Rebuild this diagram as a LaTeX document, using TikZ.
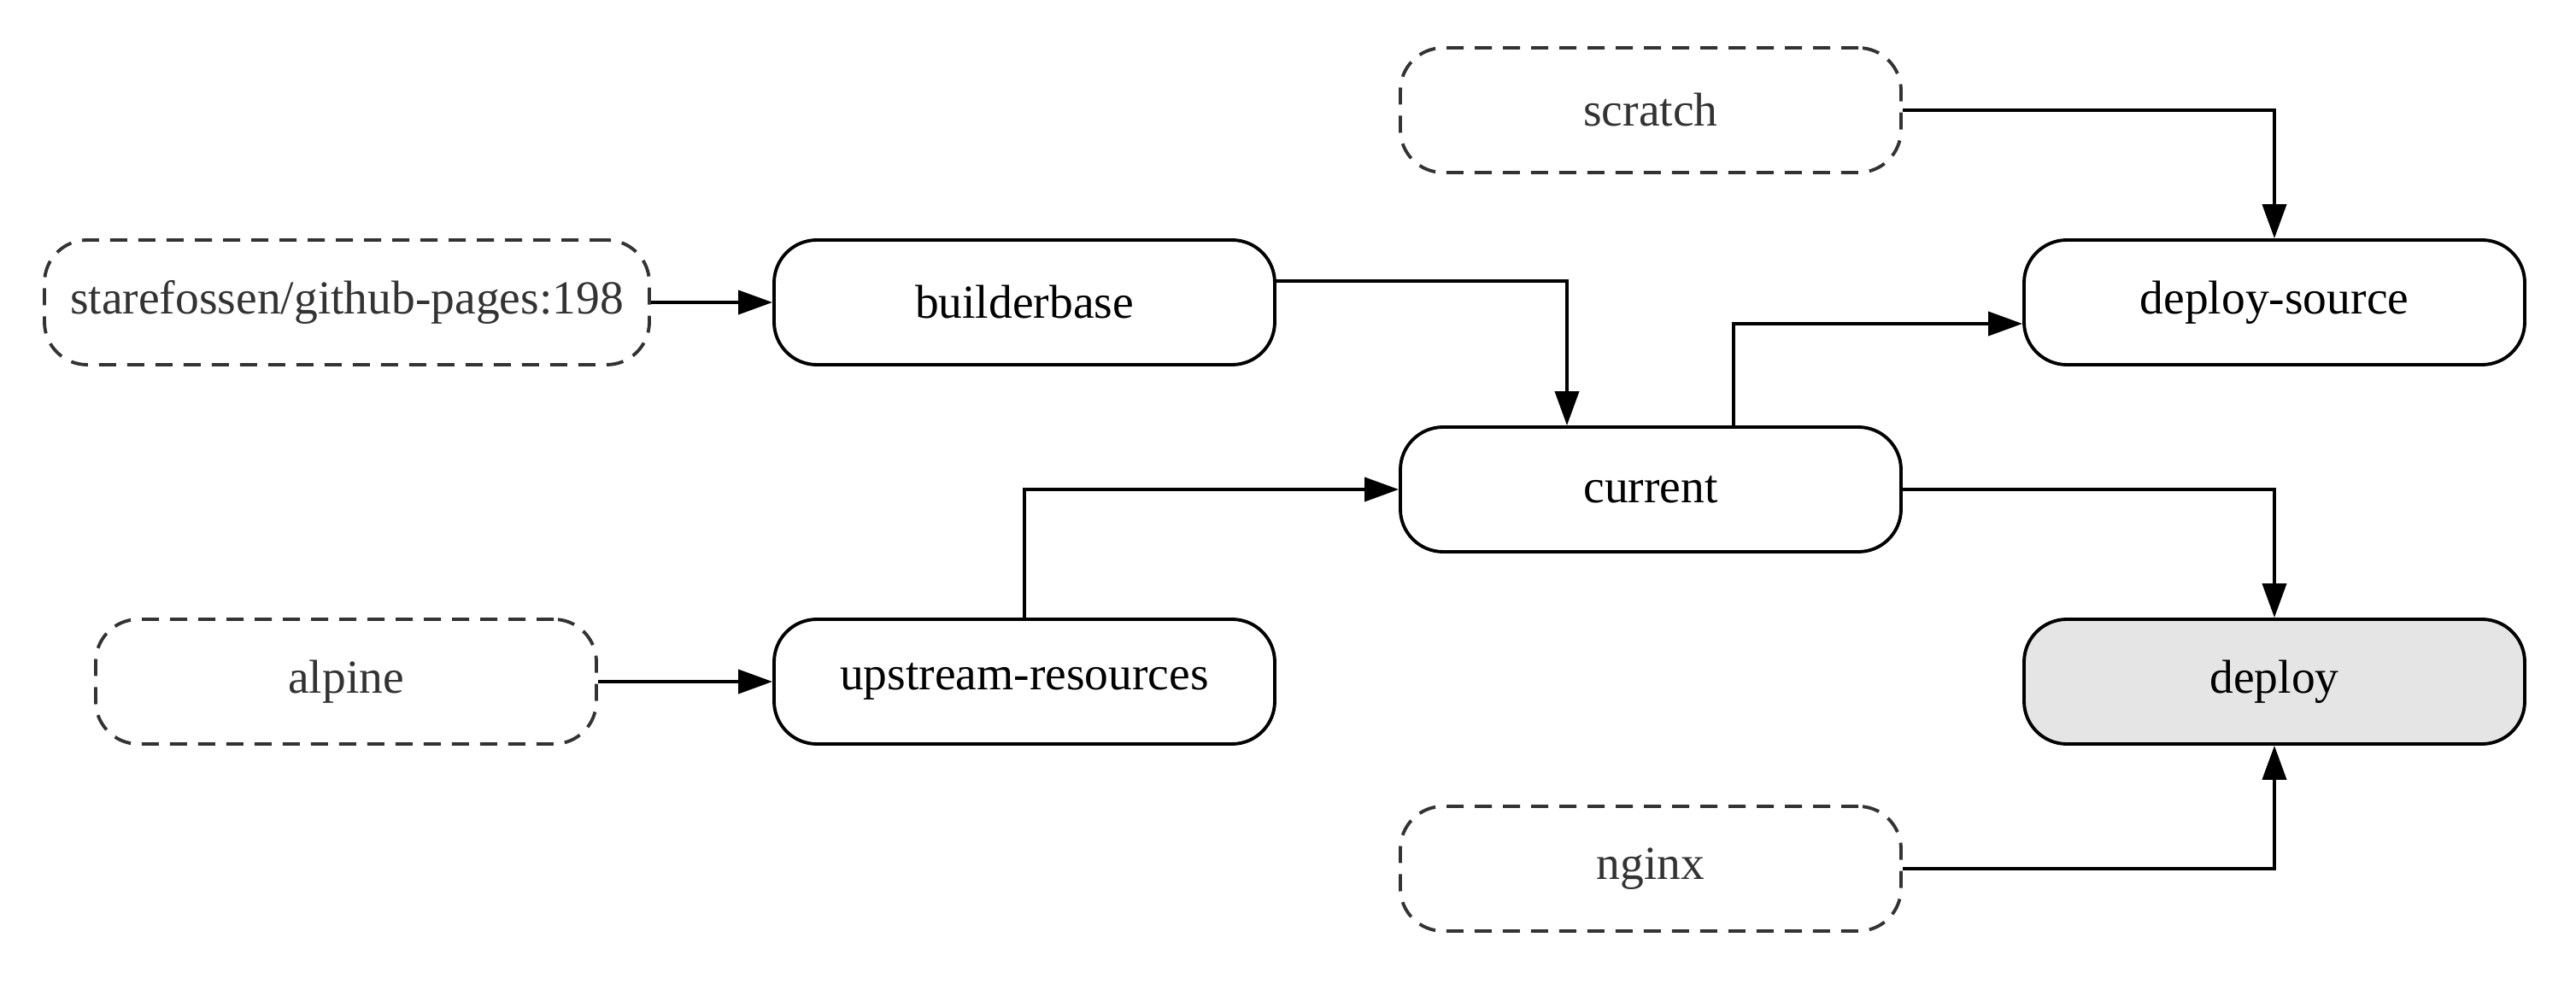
\documentclass[tikz,border=0pt]{standalone}
\usepackage{fontspec}
\setmainfont{Liberation Serif}
\usepackage{xcolor}
\usetikzlibrary{arrows.meta}
\definecolor{basegray}{HTML}{333333}
\definecolor{deployfill}{HTML}{E5E5E5}
\tikzset{
  stage/.style={draw, line width=1.1pt, rounded corners=0.5cm, minimum width=5.86cm,
    minimum height=1.46cm, inner sep=0pt, font=\fontsize{15.8}{19}\selectfont},
  base/.style={stage, draw=basegray, text=basegray, dash pattern=on 0.2cm off 0.13cm},
  flow/.style={line width=1.1pt, -{Triangle[length=0.4cm,width=0.28cm]}}
}
\begin{document}
\begin{tikzpicture}
		\useasboundingbox (0,0) rectangle (30.15,11.51);
		% BASE IMAGES
		\node [base] (scratch) at (19.32,10.22) {scratch};
		\node [base, minimum width=7.08cm] (stare) at (4.06,7.97) {starefossen/github-pages:198};
		\node [base] (alpine) at (4.05,3.53) {alpine};
		\node [base] (nginx) at (19.32,1.34) {nginx};
		% STAGES
		\node [stage] (builder) at (11.99,7.97) {builderbase};
		\node [stage] (depsrc) at (26.62,7.97) {deploy-source};
		\node [stage] (current) at (19.32,5.78) {current};
		\node [stage] (upstream) at (11.99,3.53) {upstream-resources};
		\node [stage, fill=deployfill] (deploy) at (26.62,3.53) {deploy};
		% EDGES
		\draw [flow] (stare) -- (builder);
		\draw [flow] (alpine) -- (upstream);
		\draw [flow] ([yshift=0.25cm]builder.east) -| ([xshift=-0.98cm]current.north);
		\draw [flow] (upstream.north) |- (current.west);
		\draw [flow] ([xshift=0.97cm]current.north) |- ([yshift=-0.25cm]depsrc.west);
		\draw [flow] (scratch.east) -| (depsrc.north);
		\draw [flow] (current.east) -| (deploy.north);
		\draw [flow] (nginx.east) -| (deploy.south);
\end{tikzpicture}
\end{document}
